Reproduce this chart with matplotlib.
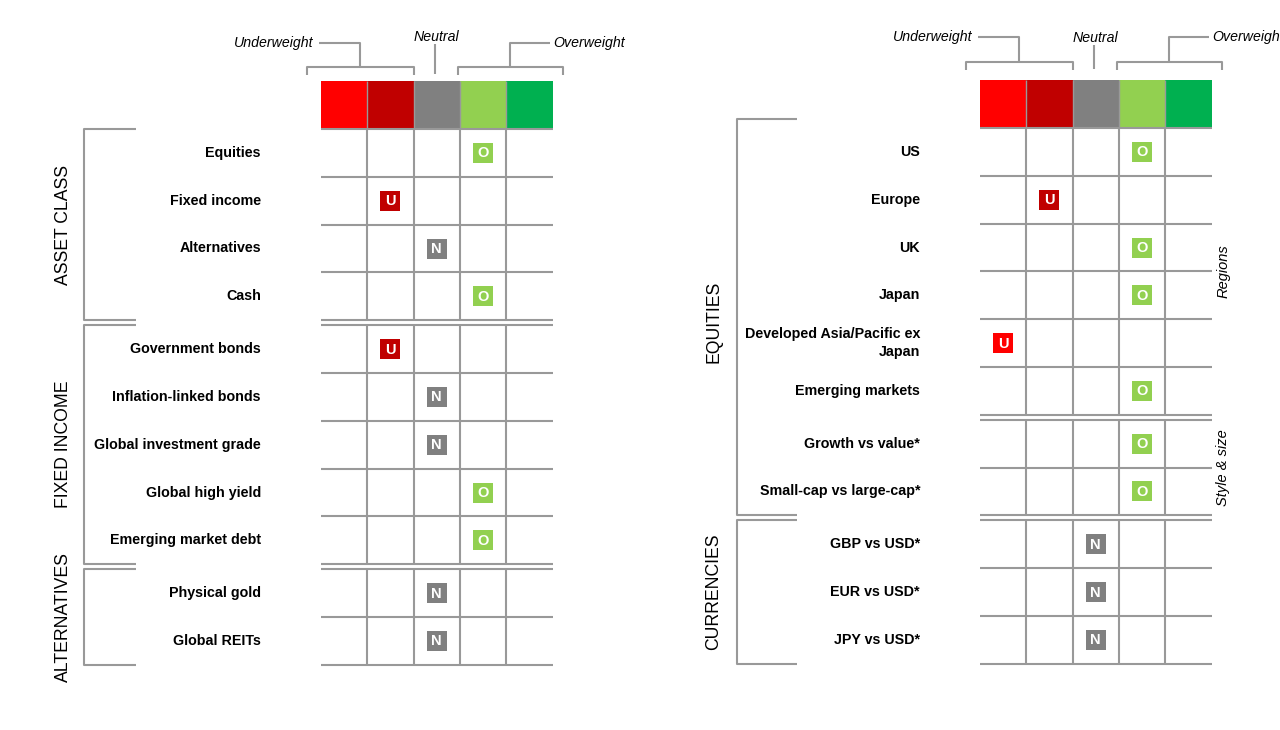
'''
Asset allocation views: two grid panels with a coloured header band
(underweight -> overweight) and a lettered square in the chosen column.
'''

import numpy as np
from matplotlib import pyplot as plt
from matplotlib import font_manager
from matplotlib.patches import Rectangle

# ---- data -------------------------------------------------------------
# rating = column index: 0 strong under, 1 under, 2 neutral, 3 over, 4 strong over
asset_labels = ['Equities', 'Fixed income', 'Alternatives', 'Cash']
asset_ratings = [3, 1, 2, 3]

fi_labels = ['Government bonds', 'Inflation-linked bonds', 'Global investment grade',
             'Global high yield', 'Emerging market debt']
fi_ratings = [1, 2, 2, 3, 3]

alt_labels = ['Physical gold', 'Global REITs']
alt_ratings = [2, 2]

region_labels = ['US', 'Europe', 'UK', 'Japan', 'Developed Asia/Pacific ex\nJapan',
                 'Emerging markets']
region_ratings = [3, 1, 3, 3, 0, 3]

style_labels = ['Growth vs value*', 'Small-cap vs large-cap*']
style_ratings = [3, 3]

fx_labels = ['GBP vs USD*', 'EUR vs USD*', 'JPY vs USD*']
fx_ratings = [2, 2, 2]

band_colors = ['#FF0000', '#C00000', '#808080', '#92D050', '#00B050']
letters = ['U', 'U', 'N', 'O', 'O']

# ---- style ------------------------------------------------------------
names = {f.name for f in font_manager.fontManager.ttflist}
base = 'Liberation Sans' if 'Liberation Sans' in names else 'DejaVu Sans'
narrow = 'Liberation Sans Narrow' if 'Liberation Sans Narrow' in names else base
grp_fs = 15.5 if narrow != base else 12.7
plt.rcParams['font.family'] = [base, 'DejaVu Sans']

lc = '#999999'
lw = 1.5
cw = 46.3
rh = 47.8
gap = 5.0
msz = 20
lab_fs = 10.3

fig = plt.figure(figsize=(12.8, 7.3), dpi=100)
ax = fig.add_axes([0, 0, 1, 1])
ax.set_xlim(0, 1280)
ax.set_ylim(730, 0)
ax.axis('off')


def line(xs, ys, **kw):
    ax.plot(xs, ys, color=lc, lw=kw.get('lw', lw), solid_capstyle='butt', zorder=2)


def draw_panel(x0, y0, band_top, hdr, sections, brackets, sides,
               lab_x, grp_x, br_x, br_top_off):
    # header band
    for k, c in enumerate(band_colors):
        ax.add_patch(Rectangle((x0 + k*cw, band_top), cw, y0 - band_top,
                               color=c, lw=0, zorder=1))
    for k in range(1, 5):
        line([x0 + k*cw]*2, [band_top, y0], lw=1.0)

    # header annotation
    y_br, y_tick, y_top, y_neu = hdr
    u0, u1 = x0 - 14, x0 + 2*cw
    um = (u0 + u1) / 2.
    line([u0, u0, u1, u1], [y_tick, y_br, y_br, y_tick])
    line([um, um, um - 41], [y_br, y_top, y_top])
    ax.text(um - 47, y_top, 'Underweight', ha='right', va='center',
            fontsize=10.2, style='italic')
    nx = x0 + 2.5*cw - 1.5
    line([nx, nx], [y_neu + 6, y_tick - 1])
    ax.text(nx + 1, y_neu - 1, 'Neutral', ha='center', va='center',
            fontsize=10.2, style='italic')
    o0, o1 = x0 + 3*cw - 2, x0 + 5*cw + 10
    om = (o0 + o1) / 2.
    line([o0, o0, o1, o1], [y_tick, y_br, y_br, y_tick])
    line([om, om, om + 40], [y_br, y_top, y_top])
    ax.text(om + 43, y_top, 'Overweight', ha='left', va='center',
            fontsize=10.2, style='italic')

    # grid sections
    spans = []
    y = y0
    for labels, ratings in sections:
        top = y
        bot = top + len(labels)*rh
        spans.append((top, bot))
        for i in range(len(labels) + 1):
            yy = top + i*rh
            line([x0, x0 + 5*cw], [yy, yy])
        for k in range(1, 5):
            line([x0 + k*cw]*2, [top, bot])
        for i, (lab, r) in enumerate(zip(labels, ratings)):
            yc = top + (i + 0.5)*rh
            ax.text(lab_x, yc, lab, ha='right', va='center', fontsize=lab_fs,
                    fontweight='bold', linespacing=1.3)
            xc = x0 + (r + 0.5)*cw
            ax.add_patch(Rectangle((xc - msz/2., yc - msz/2.), msz, msz,
                                   color=band_colors[r], lw=0, zorder=3))
            ax.text(xc, yc + 0.5, letters[r], ha='center', va='center', color='white',
                    fontsize=10.5, fontweight='bold', zorder=4)
        y = bot + gap

    # group brackets
    for j, (name, idx) in enumerate(brackets):
        top = spans[idx[0]][0] + (br_top_off if j == 0 else 0)
        bot = spans[idx[-1]][1]
        line([br_x[1], br_x[0], br_x[0], br_x[1]], [top, top, bot, bot])
        ax.text(grp_x, (spans[idx[0]][0] + bot)/2., name, rotation=90, ha='center',
                va='center', fontsize=grp_fs, family=[narrow, 'DejaVu Sans'])

    for name, idx in sides:
        top, bot = spans[idx]
        ax.text(x0 + 5*cw + 12, (top + bot)/2., name, rotation=90, ha='center',
                va='center', fontsize=10.5, style='italic')


left_sections = [(asset_labels, asset_ratings), (fi_labels, fi_ratings),
                 (alt_labels, alt_ratings)]
left_brackets = [('ASSET CLASS', [0]), ('FIXED INCOME', [1]), ('ALTERNATIVES', [2])]
draw_panel(321, 129, 81, (67, 75, 43, 38), left_sections, left_brackets, [],
           lab_x=261, grp_x=63, br_x=(84, 136), br_top_off=0)

right_sections = [(region_labels, region_ratings), (style_labels, style_ratings),
                  (fx_labels, fx_ratings)]
right_brackets = [('EQUITIES', [0, 1]), ('CURRENCIES', [2])]
right_sides = [('Regions', 0), ('Style & size', 1)]
draw_panel(980, 128, 80, (62, 70, 37, 39), right_sections, right_brackets, right_sides,
           lab_x=920, grp_x=714, br_x=(737, 797), br_top_off=-9)

fig.savefig('out.png', dpi=100)
